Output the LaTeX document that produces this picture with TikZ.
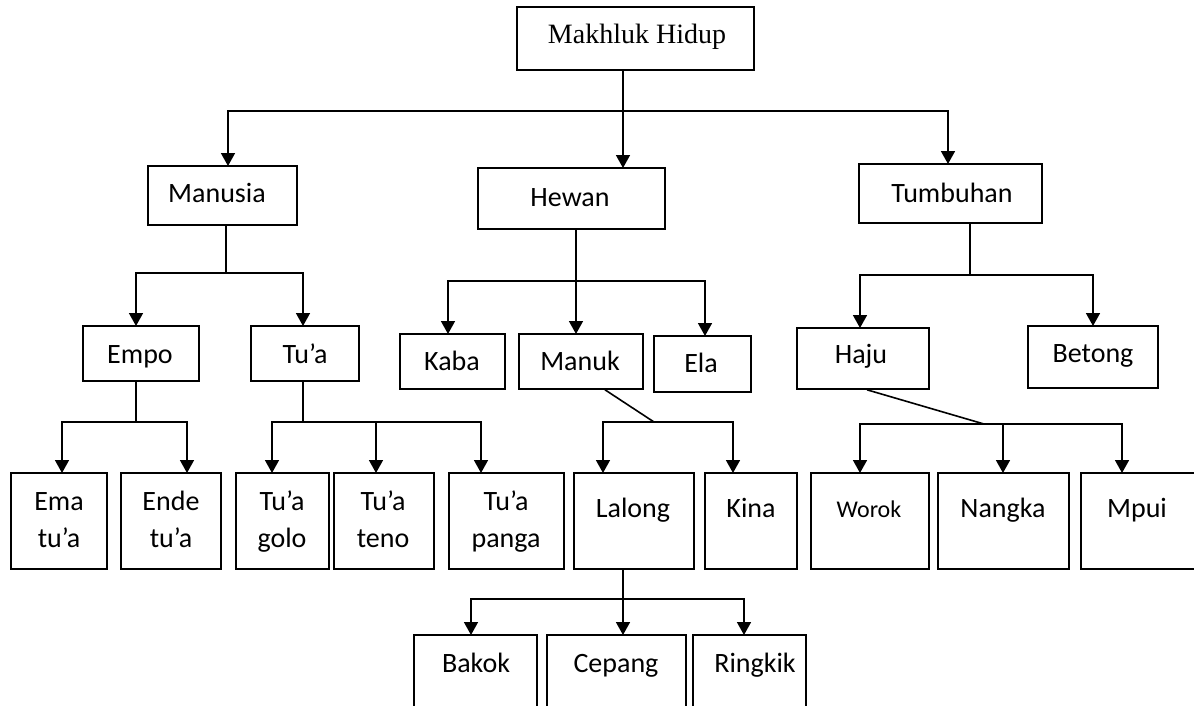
\documentclass[tikz,border=0pt]{standalone}
\usepackage{fontspec}
\setmainfont{Carlito}
\newfontfamily\serifont{Liberation Serif}
\usetikzlibrary{arrows.meta,fit}
\tikzset{
  box/.style={draw=black, line width=1.6pt, inner sep=0pt, rectangle},
  lbl/.style={anchor=base, inner sep=0pt, font=\fontsize{28}{34}\selectfont},
  smalllbl/.style={anchor=base, inner sep=0pt, font=\fontsize{24}{30}\selectfont},
  titlelbl/.style={anchor=base, inner sep=0pt, font=\serifont\fontsize{28}{34}\selectfont},
  con/.style={line width=1.6pt, draw=black},
  arr/.style={con, -{Triangle[width=14pt,length=13pt]}}
}
\newcommand\mybox[5]{\node[box, fit={(#2,#3)(#4,#5)}] (#1) {};}
\begin{document}
\begin{tikzpicture}[x=1pt,y=-1pt]
\useasboundingbox (0,0) rectangle (1194,705);
\clip (0,0) rectangle (1194,705);
\fill[white] (0,0) rectangle (1194,705);

% boxes
\mybox{mh}{517}{7}{754}{70}
\mybox{manusia}{148}{166}{297}{225}
\mybox{hewan}{478}{168}{665}{229}
\mybox{tumbuhan}{859}{164}{1042}{223}
\mybox{empo}{83}{326}{199}{381}
\mybox{tua}{251}{326}{359}{381}
\mybox{kaba}{400}{334}{505}{389}
\mybox{manuk}{519}{334}{643}{389}
\mybox{ela}{654}{336}{751}{392}
\mybox{haju}{797}{328}{929}{389}
\mybox{betong}{1028}{326}{1158}{388}
\mybox{ema}{11}{473}{107}{569}
\mybox{ende}{121}{473}{221}{569}
\mybox{golo}{236}{473}{329}{569}
\mybox{teno}{334}{473}{434}{569}
\mybox{panga}{449}{473}{564}{569}
\mybox{lalong}{574}{473}{694}{569}
\mybox{kina}{705}{473}{797}{569}
\mybox{worok}{811}{473}{929}{569}
\mybox{nangka}{938}{473}{1069}{569}
\mybox{mpui}{1081}{473}{1210}{569}
\mybox{bakok}{414}{635}{537}{730}
\mybox{cepang}{547}{635}{686}{730}
\mybox{ringkik}{693}{635}{806}{730}

% labels
\node[titlelbl] (mh-t) at (637,43) {Makhluk Hidup};
\node[lbl] (manusia-t) at (217,202) {Manusia};
\node[lbl] (hewan-t) at (570,206) {Hewan};
\node[lbl] (tumbuhan-t) at (952,202) {Tumbuhan};
\node[lbl] (empo-t) at (140,363) {Empo};
\node[lbl] (tua-t) at (305,363) {Tu’a};
\node[lbl] (kaba-t) at (452,370) {Kaba};
\node[lbl] (manuk-t) at (580,370) {Manuk};
\node[lbl] (ela-t) at (701,372) {Ela};
\node[lbl] (haju-t) at (861,363) {Haju};
\node[lbl] (betong-t) at (1093,362) {Betong};
\node[lbl] (ema-t1) at (59,510) {Ema};
\node[lbl] (ema-t2) at (59,547) {tu’a};
\node[lbl] (ende-t1) at (171,510) {Ende};
\node[lbl] (ende-t2) at (171,547) {tu’a};
\node[lbl] (golo-t1) at (282,510) {Tu’a};
\node[lbl] (golo-t2) at (282,547) {golo};
\node[lbl] (teno-t1) at (383,510) {Tu’a};
\node[lbl] (teno-t2) at (383,547) {teno};
\node[lbl] (panga-t1) at (506,510) {Tu’a};
\node[lbl] (panga-t2) at (506,547) {panga};
\node[lbl] (lalong-t) at (633,517) {Lalong};
\node[lbl] (kina-t) at (751,517) {Kina};
\node[smalllbl] (worok-t) at (869,517) {Worok};
\node[lbl] (nangka-t) at (1003,517) {Nangka};
\node[lbl] (mpui-t) at (1137,517) {Mpui};
\node[lbl] (bakok-t) at (476,672) {Bakok};
\node[lbl] (cepang-t) at (616,672) {Cepang};
\node[lbl] (ringkik-t) at (755,672) {Ringkik};

% junctions and entry points
\coordinate (j0) at (623,111);
\coordinate (j1) at (226,273);
\coordinate (j2) at (576,281);
\coordinate (j3) at (970,275);
\coordinate (j5) at (136,422);
\coordinate (j6) at (303,422);
\coordinate (j7) at (654,422);
\coordinate (j8) at (984,424);
\coordinate (j9) at (623,599);

\coordinate (manusia-in) at (228,166);
\coordinate (hewan-in) at (623,168);
\coordinate (tumbuhan-in) at (948,164);
\coordinate (empo-in) at (136,326);
\coordinate (tua-in) at (303,326);
\coordinate (kaba-in) at (448,334);
\coordinate (manuk-in) at (576,334);
\coordinate (ela-in) at (705,336);
\coordinate (haju-in) at (860,328);
\coordinate (betong-in) at (1093,326);
\coordinate (ema-in) at (62,473);
\coordinate (ende-in) at (187,473);
\coordinate (golo-in) at (272,473);
\coordinate (teno-in) at (376,473);
\coordinate (panga-in) at (481,473);
\coordinate (lalong-in) at (603,473);
\coordinate (kina-in) at (733,473);
\coordinate (worok-in) at (860,473);
\coordinate (nangka-in) at (1003,473);
\coordinate (mpui-in) at (1122,473);
\coordinate (bakok-in) at (471,635);
\coordinate (cepang-in) at (623,635);
\coordinate (ringkik-in) at (744,635);

% connectors
\draw[con] (mh.south -| j0) -- (j0);
\draw[arr] (j0) -| (manusia-in);
\draw[arr] (j0) -- (hewan-in);
\draw[arr] (j0) -| (tumbuhan-in);

\draw[con] (manusia.south -| j1) -- (j1);
\draw[arr] (j1) -| (empo-in);
\draw[arr] (j1) -| (tua-in);

\draw[con] (hewan.south -| j2) -- (j2);
\draw[arr] (j2) -| (kaba-in);
\draw[arr] (j2) -- (manuk-in);
\draw[arr] (j2) -| (ela-in);

\draw[con] (tumbuhan.south -| j3) -- (j3);
\draw[arr] (j3) -| (haju-in);
\draw[arr] (j3) -| (betong-in);

\draw[con] (empo.south -| j5) -- (j5);
\draw[arr] (j5) -| (ema-in);
\draw[arr] (j5) -| (ende-in);

\draw[con] (tua.south -| j6) -- (j6);
\draw[arr] (j6) -| (golo-in);
\draw[arr] (j6) -| (teno-in);
\draw[arr] (j6) -| (panga-in);

\draw[con] ([xshift=24pt]manuk.south) -- (j7);
\draw[arr] (j7) -| (lalong-in);
\draw[arr] (j7) -| (kina-in);

\draw[con] ([xshift=4pt]haju.south) -- (j8);
\draw[arr] (j8) -| (worok-in);
\draw[arr] (j8) -| (nangka-in);
\draw[arr] (j8) -| (mpui-in);

\draw[con] (lalong.south -| j9) -- (j9);
\draw[arr] (j9) -| (bakok-in);
\draw[arr] (j9) -- (cepang-in);
\draw[arr] (j9) -| (ringkik-in);
\end{tikzpicture}
\end{document}
